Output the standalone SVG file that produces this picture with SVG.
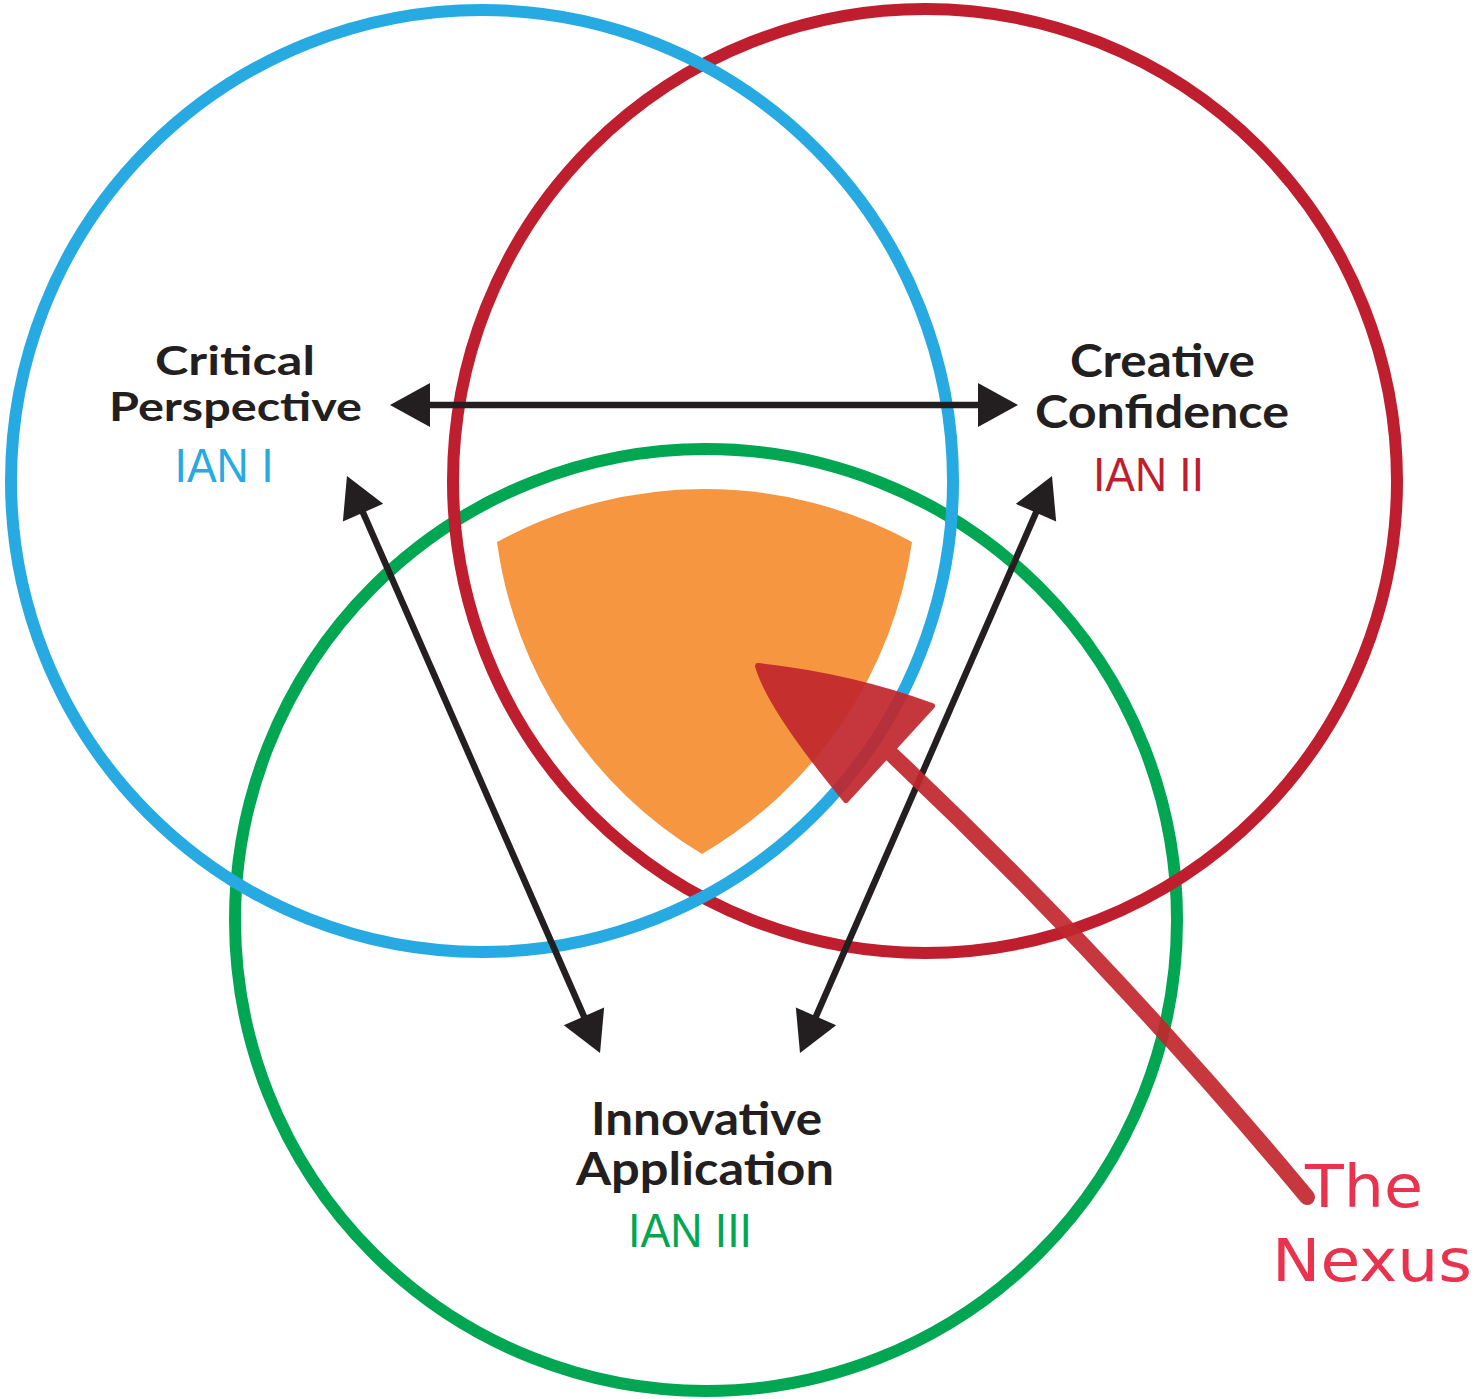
<svg xmlns="http://www.w3.org/2000/svg" width="1476" height="1399" viewBox="0 0 1476 1399">
  <style>
    .ring { fill: none; stroke-width: 12; }
    .conn { stroke: #231F20; stroke-width: 6.5; fill: none; }
    .lbl { font-family: "Lato", "Liberation Sans", sans-serif; font-weight: 700; font-size: 45px; fill: #231F20; text-anchor: middle; }
    .ian { font-family: "Liberation Sans", "Lato", sans-serif; font-weight: 400; font-size: 48px; text-anchor: middle; }
    .nexus { font-family: "DejaVu Sans", "Liberation Sans", sans-serif; font-size: 58px; fill: #E8324E; }
  </style>
  <defs>
    <marker id="ah" markerUnits="userSpaceOnUse" orient="auto-start-reverse" markerWidth="60" markerHeight="60" refX="0" refY="0" overflow="visible">
      <path d="M 20 0 L -20 -22 L -20 22 Z" fill="#231F20"/>
    </marker>
  </defs>
  <rect width="1476" height="1399" fill="#FFFFFF"/>

  <g id="circle-ian3">
    <circle class="ring" cx="706" cy="920" r="471" stroke="#00A651"/>
  </g>
  <g id="circle-ian2">
    <circle class="ring" cx="925" cy="481" r="472" stroke="#BE1E2D"/>
  </g>
  <g id="circle-ian1">
    <circle class="ring" cx="482" cy="481" r="471" stroke="#27AAE1"/>
  </g>

  <g id="nexus-area">
    <path d="M 497 542 A 432 432 0 0 1 912 542 A 432 432 0 0 1 702 854 A 432 432 0 0 1 497 542 Z" fill="#F69640"/>
  </g>

  <g id="connectors">
    <line class="conn" x1="410" y1="405" x2="998" y2="405" marker-start="url(#ah)" marker-end="url(#ah)"/>
    <line class="conn" x1="355" y1="494.3" x2="592" y2="1034.7" marker-start="url(#ah)" marker-end="url(#ah)"/>
    <line class="conn" x1="1044" y1="494.3" x2="808" y2="1034.7" marker-start="url(#ah)" marker-end="url(#ah)"/>
  </g>

  <g id="node-critical">
    <text class="lbl" style="font-size:41px"><tspan x="235" y="375" textLength="160" lengthAdjust="spacingAndGlyphs">Critical</tspan><tspan x="235.5" y="421" textLength="253" lengthAdjust="spacingAndGlyphs">Perspective</tspan></text>
    <text class="ian" x="224" y="482" fill="#27AAE1" textLength="99" lengthAdjust="spacingAndGlyphs">IAN I</text>
  </g>

  <g id="node-creative">
    <text class="lbl"><tspan x="1162.5" y="377" textLength="185" lengthAdjust="spacingAndGlyphs">Creative</tspan><tspan x="1162" y="428" textLength="254" lengthAdjust="spacingAndGlyphs">Confidence</tspan></text>
    <text class="ian" x="1148.5" y="491" fill="#BE1E2D" textLength="111" lengthAdjust="spacingAndGlyphs">IAN II</text>
  </g>

  <g id="node-innovative">
    <text class="lbl"><tspan x="706.5" y="1135" textLength="231" lengthAdjust="spacingAndGlyphs">Innovative</tspan><tspan x="705" y="1185" textLength="258" lengthAdjust="spacingAndGlyphs">Application</tspan></text>
    <text class="ian" x="690" y="1247" fill="#00A651" textLength="124" lengthAdjust="spacingAndGlyphs">IAN III</text>
  </g>

  <g id="nexus-pointer" opacity="0.92">
    <path d="M 887 750 Q 1110 960 1307 1197" fill="none" stroke="#C1272D" stroke-width="16" stroke-linecap="round"/>
    <path d="M 758 666 Q 770 708 846 800 L 932 706 Q 850 676 758 666 Z" fill="#C1272D" stroke="#C1272D" stroke-width="6" stroke-linejoin="round"/>
  </g>

  <g id="nexus-label">
    <text class="nexus" x="1305" y="1207" textLength="118" lengthAdjust="spacingAndGlyphs">The</text>
    <text class="nexus" x="1272" y="1281" textLength="200" lengthAdjust="spacingAndGlyphs">Nexus</text>
  </g>
</svg>
